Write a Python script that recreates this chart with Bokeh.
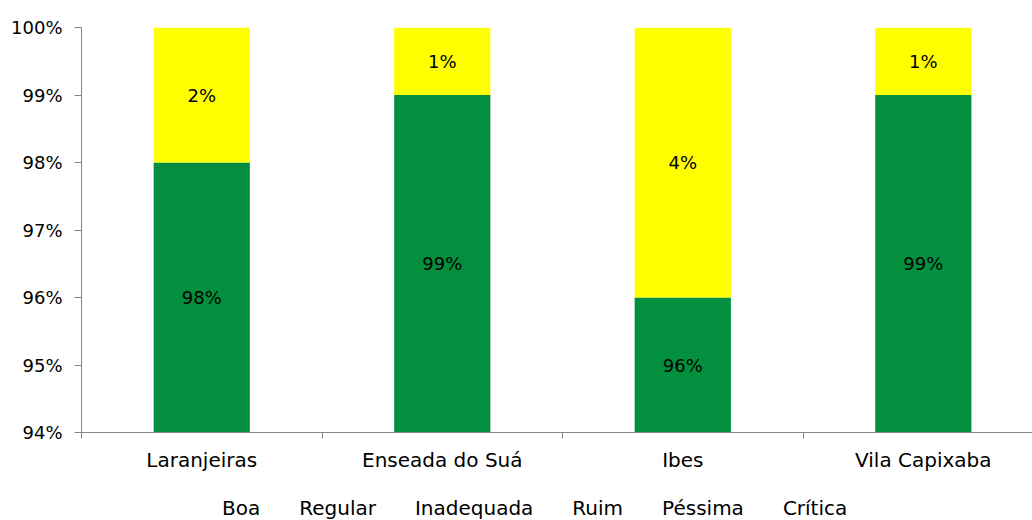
from bokeh.plotting import figure
from bokeh.layouts import column
from bokeh.models import Range1d, FixedTicker, PrintfTickFormatter, ColumnDataSource, Legend, LegendItem
from bokeh.core.properties import value
from bokeh.embed import file_html
from bokeh.resources import INLINE

categories = ["Laranjeiras", "Enseada do Suá", "Ibes", "Vila Capixaba"]
boa = [98, 99, 96, 99]
regular = [2, 1, 4, 1]
inadequada = [0, 0, 0, 0]
ruim = [0, 0, 0, 0]
pessima = [0, 0, 0, 0]
critica = [0, 0, 0, 0]
series_names = ["Boa", "Regular", "Inadequada", "Ruim", "Péssima", "Crítica"]
colors = ["#03903E", "#FFFF00", "#FFC000", "#FF0000", "#7030A0", "#000000"]
y_ticks = [94, 95, 96, 97, 98, 99, 100]

FONT = "DejaVu Sans"
y_min, y_max = 94, 100

xs = [i + 0.5 for i in range(len(categories))]
data = dict(x=xs)
keys = ["s0", "s1", "s2", "s3", "s4", "s5"]
all_series = [boa, regular, inadequada, ruim, pessima, critica]
for k, s in zip(keys, all_series):
    data[k] = s
src = ColumnDataSource(data)

p = figure(width=1032, height=488, output_backend="svg", toolbar_location=None,
           x_range=Range1d(0, 3.954), y_range=Range1d(y_min, y_max),
           min_border_left=81, min_border_right=0, min_border_top=27,
           min_border_bottom=56)
p.outline_line_color = None
p.xgrid.visible = False
p.ygrid.visible = False

rs = p.vbar_stack(keys, x="x", width=0.4, color=colors, source=src, line_color=None)

# labels
lx, ly, lt = [], [], []
for i in range(len(categories)):
    base = 0
    for s in all_series:
        v = s[i]
        if v > 0:
            lo = max(base, y_min)
            hi = min(base + v, y_max)
            lx.append(xs[i])
            ly.append((lo + hi) / 2)
            lt.append(f"{v}%")
        base += v
p.text(x=lx, y=ly, text=lt, text_align="center", text_baseline="middle",
       text_font=value(FONT), text_font_size="18px", text_color="black")

axis_col = "#868686"
p.xaxis.ticker = FixedTicker(ticks=xs, minor_ticks=[0, 1, 2, 3, 4])
p.xaxis.major_label_overrides = {x: c for x, c in zip(xs, categories)}
p.xaxis.major_tick_line_color = None
p.xaxis.major_tick_out = 0
p.xaxis.major_tick_in = 0
p.xaxis.minor_tick_out = 6
p.xaxis.minor_tick_in = 0
p.xaxis.minor_tick_line_color = axis_col
p.xaxis.axis_line_color = axis_col
p.xaxis.major_label_standoff = 9
p.xaxis.major_label_text_font = FONT
p.xaxis.major_label_text_font_size = "20px"
p.xaxis.major_label_text_color = "black"

p.yaxis.ticker = FixedTicker(ticks=y_ticks, minor_ticks=[])
p.yaxis.formatter = PrintfTickFormatter(format="%d%%")
p.yaxis.axis_line_color = axis_col
p.yaxis.major_tick_line_color = axis_col
p.yaxis.major_tick_out = 7
p.yaxis.major_tick_in = 0
p.yaxis.minor_tick_line_color = None
p.yaxis.major_label_standoff = 12
p.yaxis.major_label_text_font = FONT
p.yaxis.major_label_text_font_size = "18px"
p.yaxis.major_label_text_color = "black"

# legend strip below the chart
lf = figure(width=1032, height=32, output_backend="svg", toolbar_location=None,
            x_range=Range1d(0, 1), y_range=Range1d(0, 1),
            min_border=0, min_border_left=0, min_border_right=0,
            min_border_top=0, min_border_bottom=0)
lf.outline_line_color = None
lf.axis.visible = False
lf.grid.visible = False
lrs = [lf.vbar(x=[], top=[], width=0.1, color=c, line_color=None) for c in colors]

legend = Legend(items=[LegendItem(label=n, renderers=[r]) for n, r in zip(series_names, lrs)],
                orientation="horizontal", location=(124, 0))
legend.label_text_font = FONT
legend.label_text_font_size = "20px"
legend.label_text_color = "black"
legend.label_height = 20
legend.glyph_width = 13
legend.glyph_height = 13
legend.label_standoff = 4
legend.spacing = 22
legend.padding = 0
legend.margin = 0
legend.border_line_color = None
legend.background_fill_alpha = 0
lf.add_layout(legend, "center")

layout = column(p, lf, spacing=0)
open("out.html", "w").write(file_html(layout, INLINE))
